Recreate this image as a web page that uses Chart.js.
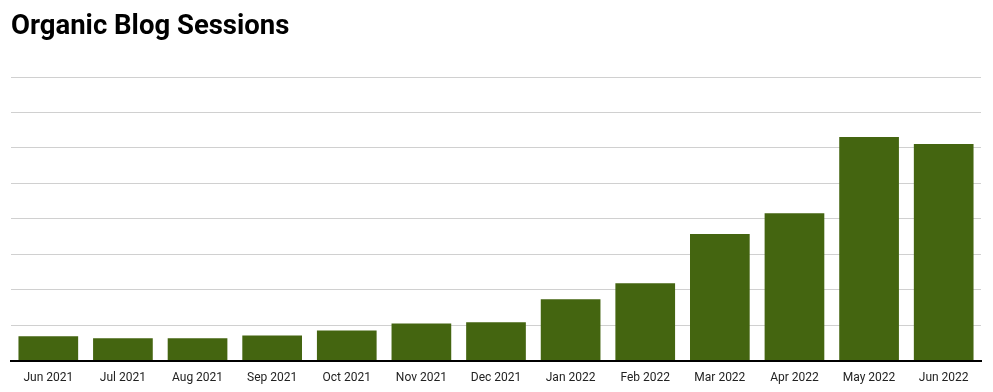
<!DOCTYPE html>
<html>
<head>
<meta charset="utf-8">
<script src="https://cdn.jsdelivr.net/npm/chart.js@4"></script>
<style>
  html, body { margin: 0; padding: 0; background: #fff; }
  #wrap { width: 993px; height: 392px; }
</style>
</head>
<body>
<div id="wrap"><canvas id="sessionsChart"></canvas></div>
<script>
const months = [
    "Jun 2021", "Jul 2021", "Aug 2021", "Sep 2021", "Oct 2021", "Nov 2021", "Dec 2021",
    "Jan 2022", "Feb 2022", "Mar 2022", "Apr 2022", "May 2022", "Jun 2022",
];
const sessions = [690, 630, 630, 710, 850, 1050, 1080, 1730, 2180, 3570, 4160, 6310, 6110];
const yMax = 8000;
const yStep = 1000;

const sessionsChart = document.getElementById("sessionsChart");

new Chart(sessionsChart, {
    type: "bar",
    data: {
        labels: months,
        datasets: [
            {
                label: "Organic Blog Sessions",
                data: sessions,
                backgroundColor: "#446510",
                barPercentage: 0.8,
                categoryPercentage: 1,
            },
        ],
    },
    options: {
        responsive: true,
        maintainAspectRatio: false,
        animation: false,
        layout: { padding: { left: 11, right: 12, top: 0, bottom: 5 } },
        plugins: {
            legend: { display: false },
            tooltip: { enabled: false },
            title: {
                display: true,
                text: "Organic Blog Sessions",
                align: "start",
                color: "#000",
                font: { family: "Roboto", size: 27.5, weight: "bold" },
                padding: { top: 11, bottom: 33 },
            },
        },
        scales: {
            x: {
                grid: { display: false },
                border: { color: "#000", width: 2 },
                ticks: {
                    color: "#222",
                    font: { family: "Roboto", size: 12 },
                    padding: 2,
                    maxRotation: 0,
                },
            },
            y: {
                min: 0,
                max: yMax,
                ticks: { display: false, stepSize: yStep },
                grid: { color: "#d0d0d0", drawTicks: false },
                border: { display: false },
            },
        },
    },
});
</script>
</body>
</html>
